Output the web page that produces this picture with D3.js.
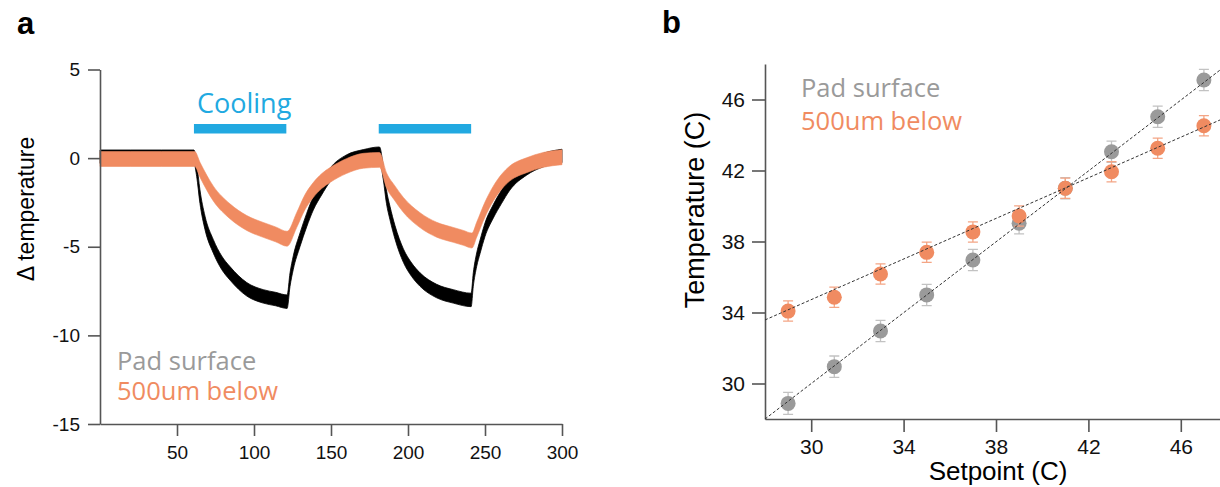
<!DOCTYPE html>
<html>
<head>
<meta charset="utf-8">
<script src="https://cdn.jsdelivr.net/npm/d3@7"></script>
<style>
  body { margin: 0; background: #fff; }
  text { font-family: "Liberation Sans", Arial, sans-serif; }
  .lab { font-family: "Open Sans", sans-serif; }
</style>
</head>
<body>
<svg id="chart"></svg>
<script>
// ---- panel a: temperature traces (s, delta C) ----
const padTime = [0, 20, 40, 61, 62.8, 64.9, 68.2, 73.6, 79, 84.4, 95.3, 106, 114, 121.5,
    123.4, 125.5, 129.9, 134.2, 138.5, 143.9, 149.4, 160, 171, 181.5,
    184, 186, 188.3, 191.6, 197, 202.4, 207.8, 218.6, 229.4, 241,
    242.4, 244.6, 246.8, 250, 255.4, 260.8, 266.2, 277, 287.9, 300];
const padDelta = [0.08, 0.08, 0.08, 0.08, -0.67, -2.17, -3.66, -4.98, -5.9, -6.5, -7.4, -7.8, -7.95, -8.1,
    -6.85, -5.9, -4.6, -3.5, -2.55, -1.7, -0.95, -0.2, 0.1, 0.25,
    -0.86, -2.17, -3.1, -4.2, -5.5, -6.3, -6.85, -7.5, -7.8, -8.0,
    -6.85, -5.73, -5.0, -4.04, -3.0, -2.17, -1.42, -0.58, -0.11, 0.12];
const belowTime = [0, 20, 40, 61.5, 65, 73.6, 84.4, 95.3, 106, 114, 121.5,
    127.7, 133, 138.5, 143.9, 149.4, 160, 171, 181.5,
    186, 191.6, 197, 207.8, 218.6, 229.4, 236, 241.5,
    244.6, 250, 255.4, 260.8, 266.2, 277, 287.9, 300];
const belowDelta = [-0.05, -0.05, -0.05, -0.05, -0.67, -2.0, -3.0, -3.66, -4.05, -4.3, -4.55,
    -3.5, -2.5, -1.8, -1.3, -0.95, -0.45, -0.15, -0.1,
    -1.24, -2.0, -2.64, -3.5, -4.04, -4.33, -4.5, -4.65,
    -4.04, -2.9, -2.0, -1.33, -0.86, -0.4, -0.1, 0.05];
// half spread of the noisy traces
const padSpread = 0.38, belowSpread = 0.42;
const coolingPeriods = [[61, 121], [181, 241]];
const traceXTicks = [50, 100, 150, 200, 250, 300];
const traceYTicks = [-15, -10, -5, 0, 5];

// ---- panel b: calibration ----
const setpoints = [29, 31, 33, 35, 37, 39, 41, 43, 45, 47];
const padTemp = [28.88, 30.95, 32.96, 34.99, 36.96, 39.03, 41.0, 43.06, 45.03, 47.1];
const belowTemp = [34.08, 34.86, 36.17, 37.39, 38.54, 39.44, 41.0, 41.93, 43.25, 44.52];
const padErr = [0.62, 0.6, 0.6, 0.6, 0.6, 0.6, 0.6, 0.6, 0.6, 0.6];
const belowErr = [0.57, 0.57, 0.57, 0.57, 0.57, 0.57, 0.57, 0.57, 0.57, 0.57];
const padFit = [[28, 28.0], [48, 47.96]];
const belowFit = [[28, 33.58], [48, 45.02]];
const calibTicks = [30, 34, 38, 42, 46];

const legendLabels = ["Pad surface", "500um below"];

const grey = "#9a9a9a", orange = "#f08b61", blue = "#21a9e1", axisCol = "#555";

const svg = d3.select("#chart")
    .attr("width", 1220)
    .attr("height", 487);

// ================= panel a =================
const xa = d3.scaleLinear().domain([0, 300]).range([100, 562]);
const ya = d3.scaleLinear().domain([-15, 5]).range([424, 69.5]);

const ga = svg.append("g");

const band = (times, vals, spread) => d3.area()
    .x((d, i) => xa(times[i]))
    .y0((d, i) => ya(vals[i] - spread))
    .y1((d, i) => ya(vals[i] + spread))
    .curve(d3.curveMonotoneX)(vals);

ga.append("path")
    .attr("d", band(padTime, padDelta, padSpread))
    .attr("fill", "#000")
    .attr("stroke", "#000")
    .attr("stroke-width", 0.8);

ga.append("path")
    .attr("d", band(belowTime, belowDelta, belowSpread))
    .attr("fill", orange)
    .attr("stroke", orange)
    .attr("stroke-width", 0.6);

ga.selectAll(".cool")
    .data(coolingPeriods)
    .enter()
    .append("rect")
    .attr("class", "cool")
    .attr("x", d => xa(d[0]))
    .attr("width", d => xa(d[1]) - xa(d[0]))
    .attr("y", 124)
    .attr("height", 9.5)
    .attr("fill", blue);

ga.append("text")
    .attr("class", "lab")
    .attr("x", 197)
    .attr("y", 113)
    .attr("fill", blue)
    .style("font-size", "27px")
    .text("Cooling");

const fmt = d => String(d);
const xAxisA = ga.append("g")
    .attr("transform", "translate(0,424)")
    .call(d3.axisBottom(xa).tickValues(traceXTicks).tickFormat(fmt).tickSize(12).tickSizeOuter(0).tickPadding(10));
const yAxisA = ga.append("g")
    .attr("transform", "translate(100,0)")
    .call(d3.axisLeft(ya).tickValues(traceYTicks).tickFormat(fmt).tickSize(12).tickSizeOuter(0).tickPadding(8));
[xAxisA, yAxisA].forEach(a => {
    a.selectAll("path, line").attr("stroke", axisCol).attr("stroke-width", 1.6);
    a.selectAll("text").style("font-size", "19px").attr("fill", "#111");
});

ga.append("text")
    .attr("transform", "translate(34,209) rotate(-90)")
    .attr("text-anchor", "middle")
    .style("font-size", "23px")
    .text("\u0394 temperature");

ga.selectAll(".lega")
    .data(legendLabels)
    .enter()
    .append("text")
    .attr("class", "lab")
    .attr("x", 117)
    .attr("y", (d, i) => 370 + i * 30)
    .attr("fill", (d, i) => i ? orange : grey)
    .style("font-size", "25.5px")
    .text(d => d);

svg.append("text")
    .attr("x", 17).attr("y", 34)
    .style("font-size", "31px").style("font-weight", "bold")
    .text("a");

// ================= panel b =================
const xb = d3.scaleLinear().domain([28, 48]).range([765, 1227]);
const yb = d3.scaleLinear().domain([28, 48]).range([419, 64]);

const gb = svg.append("g");

const xAxisB = gb.append("g")
    .attr("transform", "translate(0,419)")
    .call(d3.axisBottom(xb).tickValues(calibTicks).tickFormat(fmt).tickSize(13).tickSizeOuter(0).tickPadding(7));
const yAxisB = gb.append("g")
    .attr("transform", "translate(765,0)")
    .call(d3.axisLeft(yb).tickValues(calibTicks).tickFormat(fmt).tickSize(13).tickSizeOuter(0).tickPadding(7));
[xAxisB, yAxisB].forEach(a => {
    a.selectAll("path, line").attr("stroke", axisCol).attr("stroke-width", 1.6);
    a.selectAll("text").style("font-size", "21px").attr("fill", "#111");
});

function drawSeries(temps, errs, fill, errCol) {
    const g = gb.append("g");
    const pts = setpoints.map((s, i) => ({ s: s, t: temps[i], e: errs[i] }));
    g.selectAll(".eb")
        .data(pts)
        .enter()
        .append("path")
        .attr("d", d => {
            const x = xb(d.s), y0 = yb(d.t - d.e), y1 = yb(d.t + d.e);
            return `M${x},${y0}V${y1}M${x - 5},${y0}H${x + 5}M${x - 5},${y1}H${x + 5}`;
        })
        .attr("stroke", errCol)
        .attr("stroke-width", 1.3)
        .attr("fill", "none");
    g.selectAll("circle")
        .data(pts)
        .enter()
        .append("circle")
        .attr("cx", d => xb(d.s))
        .attr("cy", d => yb(d.t))
        .attr("r", 7.5)
        .attr("fill", fill);
}
drawSeries(padTemp, padErr, grey, "#c2c2c2");
drawSeries(belowTemp, belowErr, orange, "#f4a585");

const fitLine = d3.line().x(d => xb(d[0])).y(d => yb(d[1]));
[padFit, belowFit].forEach(f => {
    gb.append("path")
        .attr("d", fitLine(f))
        .attr("stroke", "#333")
        .attr("stroke-width", 1)
        .attr("stroke-dasharray", "3,2")
        .attr("fill", "none");
});

gb.append("text")
    .attr("transform", "translate(704,210) rotate(-90)")
    .attr("text-anchor", "middle")
    .style("font-size", "27px")
    .text("Temperature (C)");

gb.append("text")
    .attr("x", 998).attr("y", 480)
    .attr("text-anchor", "middle")
    .style("font-size", "26px")
    .text("Setpoint (C)");

gb.selectAll(".legb")
    .data(legendLabels)
    .enter()
    .append("text")
    .attr("class", "lab")
    .attr("x", 801)
    .attr("y", (d, i) => 97 + i * 33)
    .attr("fill", (d, i) => i ? orange : grey)
    .style("font-size", "25.5px")
    .text(d => d);

svg.append("text")
    .attr("x", 662).attr("y", 33)
    .style("font-size", "31px").style("font-weight", "bold")
    .text("b");
</script>
</body>
</html>
